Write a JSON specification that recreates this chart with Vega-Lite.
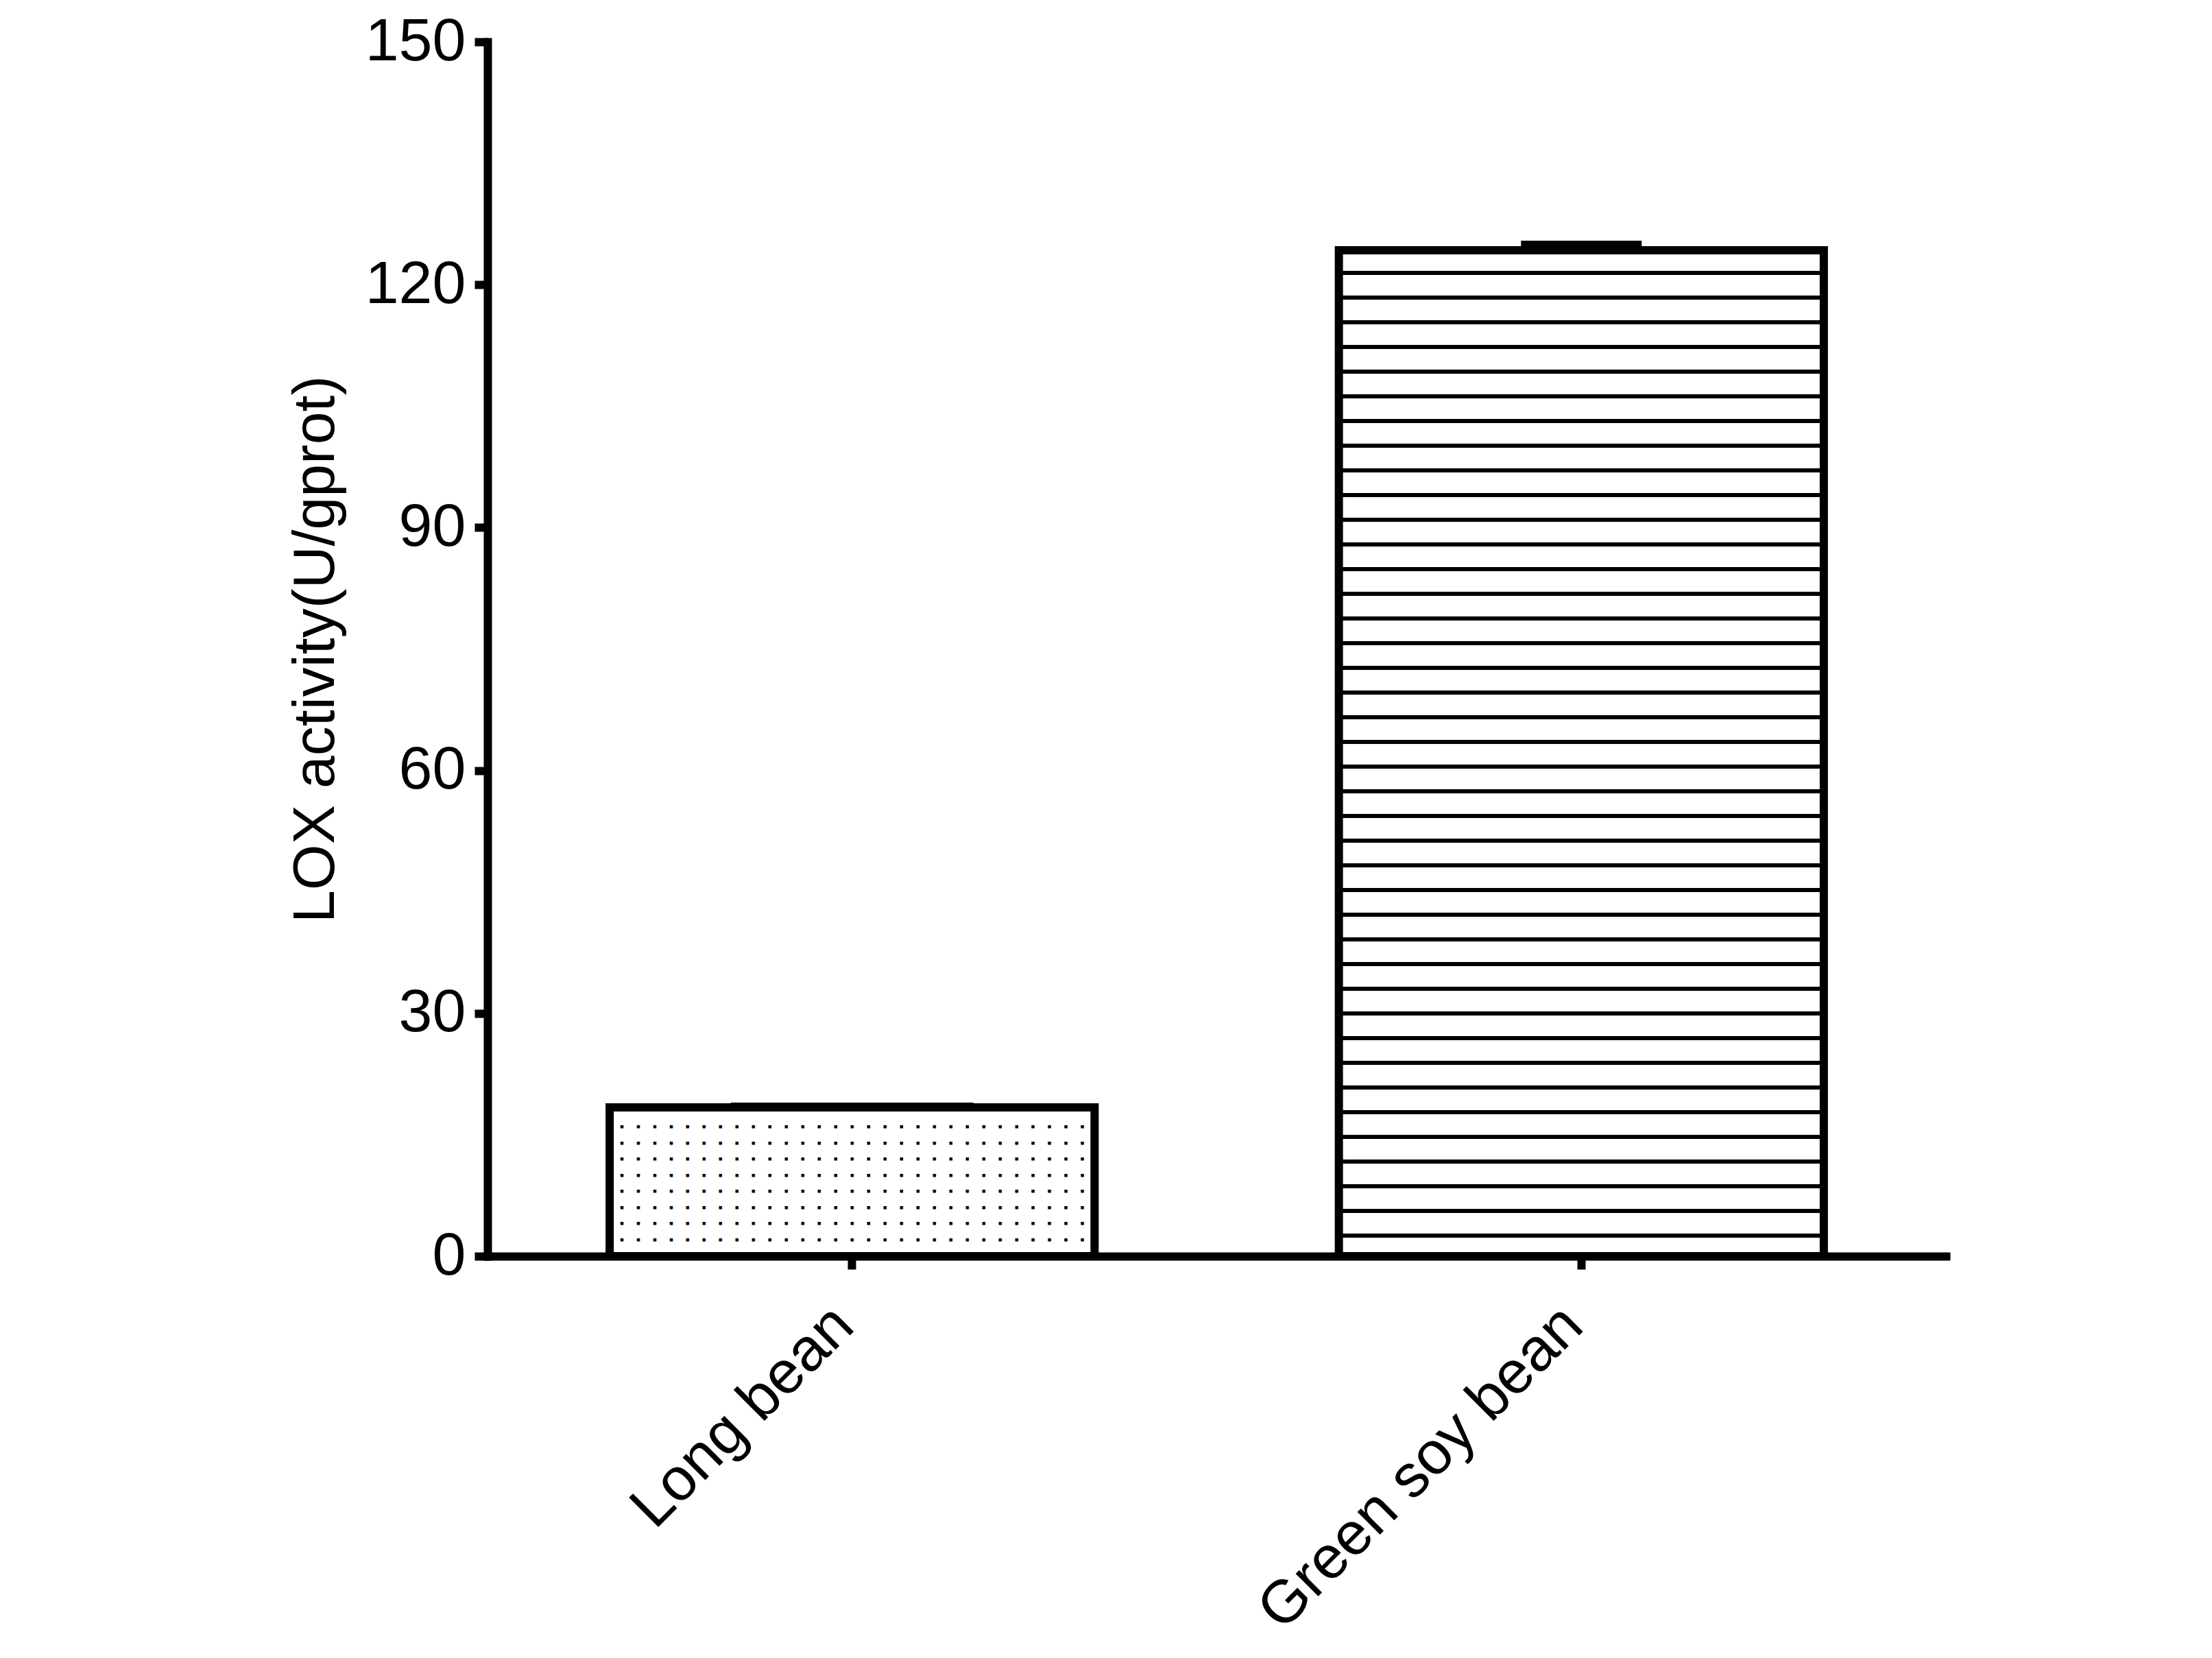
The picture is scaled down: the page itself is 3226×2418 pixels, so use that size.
{
  "$schema": "https://vega.github.io/schema/vega-lite/v6.json",
  "width": 2127,
  "height": 1771,
  "autosize": {"type": "none"},
  "padding": {"left": 711, "top": 61, "right": 388, "bottom": 586},
  "background": "white",
  "config": {
    "view": {"stroke": null},
    "font": "Liberation Sans",
    "axis": {
      "domainColor": "black",
      "domainWidth": 12,
      "domainCap": "square",
      "tickColor": "black",
      "tickWidth": 12,
      "tickSize": 19,
      "labelColor": "black",
      "labelFont": "Liberation Sans",
      "labelFontSize": 88,
      "labelLimit": 0,
      "titleFont": "Liberation Sans",
      "titleColor": "black",
      "titleFontSize": 86,
      "titleFontWeight": "normal",
      "titleLimit": 0,
      "grid": false
    }
  },
  "data": {
    "values": [
      {"bean": "Long bean", "lox": 18.38, "upper": 18.46},
      {"bean": "Green soy bean", "lox": 124.25, "upper": 124.93}
    ]
  },
  "encoding": {
    "x": {
      "field": "bean",
      "type": "nominal",
      "sort": null,
      "scale": {"paddingInner": 0.335, "paddingOuter": 0.1675},
      "axis": {
        "title": null,
        "labelAngle": -45,
        "labelAlign": "right",
        "labelBaseline": "middle",
        "labelPadding": 68,
        "labelOffset": -12,
        "labelLimit": 0,
        "labelOverlap": false
      }
    }
  },
  "layer": [
    {
      "transform": [{"filter": "datum.bean == 'Long bean'"}],
      "mark": {"type": "bar", "fill": "white", "stroke": "black", "strokeWidth": 12, "strokeJoin": "miter"},
      "encoding": {
        "y": {
          "field": "lox",
          "type": "quantitative",
          "scale": {"domain": [0, 150], "nice": false},
          "axis": {
            "title": "LOX activity(U/gprot)",
            "values": [0, 30, 60, 90, 120, 150],
            "labelPadding": 13,
            "titlePadding": 28
          }
        }
      }
    },
    {
      "transform": [{"filter": "datum.bean == 'Long bean'"}],
      "mark": {
        "type": "text",
        "font": "DejaVu Sans Mono",
        "fontSize": 19.93,
        "fontWeight": "bold",
        "align": "center",
        "baseline": "top",
        "dy": 14,
        "lineHeight": 23.57,
        "color": "black",
        "stroke": "black",
        "strokeWidth": 1.2,
        "text": [
          "\u00a0.\u00a0.\u00a0.\u00a0.\u00a0.\u00a0.\u00a0.\u00a0.\u00a0.\u00a0.\u00a0.\u00a0.\u00a0.\u00a0.\u00a0.\u00a0.\u00a0.\u00a0.\u00a0.\u00a0.\u00a0.\u00a0.\u00a0.\u00a0.\u00a0.\u00a0.\u00a0.\u00a0.\u00a0.",
          ".\u00a0.\u00a0.\u00a0.\u00a0.\u00a0.\u00a0.\u00a0.\u00a0.\u00a0.\u00a0.\u00a0.\u00a0.\u00a0.\u00a0.\u00a0.\u00a0.\u00a0.\u00a0.\u00a0.\u00a0.\u00a0.\u00a0.\u00a0.\u00a0.\u00a0.\u00a0.\u00a0.\u00a0.\u00a0",
          "\u00a0.\u00a0.\u00a0.\u00a0.\u00a0.\u00a0.\u00a0.\u00a0.\u00a0.\u00a0.\u00a0.\u00a0.\u00a0.\u00a0.\u00a0.\u00a0.\u00a0.\u00a0.\u00a0.\u00a0.\u00a0.\u00a0.\u00a0.\u00a0.\u00a0.\u00a0.\u00a0.\u00a0.\u00a0.",
          ".\u00a0.\u00a0.\u00a0.\u00a0.\u00a0.\u00a0.\u00a0.\u00a0.\u00a0.\u00a0.\u00a0.\u00a0.\u00a0.\u00a0.\u00a0.\u00a0.\u00a0.\u00a0.\u00a0.\u00a0.\u00a0.\u00a0.\u00a0.\u00a0.\u00a0.\u00a0.\u00a0.\u00a0.\u00a0",
          "\u00a0.\u00a0.\u00a0.\u00a0.\u00a0.\u00a0.\u00a0.\u00a0.\u00a0.\u00a0.\u00a0.\u00a0.\u00a0.\u00a0.\u00a0.\u00a0.\u00a0.\u00a0.\u00a0.\u00a0.\u00a0.\u00a0.\u00a0.\u00a0.\u00a0.\u00a0.\u00a0.\u00a0.\u00a0.",
          ".\u00a0.\u00a0.\u00a0.\u00a0.\u00a0.\u00a0.\u00a0.\u00a0.\u00a0.\u00a0.\u00a0.\u00a0.\u00a0.\u00a0.\u00a0.\u00a0.\u00a0.\u00a0.\u00a0.\u00a0.\u00a0.\u00a0.\u00a0.\u00a0.\u00a0.\u00a0.\u00a0.\u00a0.\u00a0",
          "\u00a0.\u00a0.\u00a0.\u00a0.\u00a0.\u00a0.\u00a0.\u00a0.\u00a0.\u00a0.\u00a0.\u00a0.\u00a0.\u00a0.\u00a0.\u00a0.\u00a0.\u00a0.\u00a0.\u00a0.\u00a0.\u00a0.\u00a0.\u00a0.\u00a0.\u00a0.\u00a0.\u00a0.\u00a0.",
          ".\u00a0.\u00a0.\u00a0.\u00a0.\u00a0.\u00a0.\u00a0.\u00a0.\u00a0.\u00a0.\u00a0.\u00a0.\u00a0.\u00a0.\u00a0.\u00a0.\u00a0.\u00a0.\u00a0.\u00a0.\u00a0.\u00a0.\u00a0.\u00a0.\u00a0.\u00a0.\u00a0.\u00a0.\u00a0"
        ]
      },
      "encoding": {
        "y": {"field": "lox", "type": "quantitative"}
      }
    },
    {
      "transform": [{"filter": "datum.bean == 'Green soy bean'"}],
      "mark": {
        "type": "bar",
        "stroke": "black",
        "strokeWidth": 12,
        "strokeJoin": "miter",
        "fill": {
          "gradient": "linear",
          "x1": 0, "y1": 0, "x2": 0, "y2": 1,
          "stops": [
            {"offset": 0, "color": "white"},
            {"offset": 0.02045, "color": "white"}, {"offset": 0.02045, "color": "black"}, {"offset": 0.02454, "color": "black"}, {"offset": 0.02454, "color": "white"},
            {"offset": 0.04499, "color": "white"}, {"offset": 0.04499, "color": "black"}, {"offset": 0.04908, "color": "black"}, {"offset": 0.04908, "color": "white"},
            {"offset": 0.06953, "color": "white"}, {"offset": 0.06953, "color": "black"}, {"offset": 0.07362, "color": "black"}, {"offset": 0.07362, "color": "white"},
            {"offset": 0.09407, "color": "white"}, {"offset": 0.09407, "color": "black"}, {"offset": 0.09816, "color": "black"}, {"offset": 0.09816, "color": "white"},
            {"offset": 0.11861, "color": "white"}, {"offset": 0.11861, "color": "black"}, {"offset": 0.12270, "color": "black"}, {"offset": 0.12270, "color": "white"},
            {"offset": 0.14315, "color": "white"}, {"offset": 0.14315, "color": "black"}, {"offset": 0.14724, "color": "black"}, {"offset": 0.14724, "color": "white"},
            {"offset": 0.16769, "color": "white"}, {"offset": 0.16769, "color": "black"}, {"offset": 0.17178, "color": "black"}, {"offset": 0.17178, "color": "white"},
            {"offset": 0.19223, "color": "white"}, {"offset": 0.19223, "color": "black"}, {"offset": 0.19632, "color": "black"}, {"offset": 0.19632, "color": "white"},
            {"offset": 0.21677, "color": "white"}, {"offset": 0.21677, "color": "black"}, {"offset": 0.22086, "color": "black"}, {"offset": 0.22086, "color": "white"},
            {"offset": 0.24131, "color": "white"}, {"offset": 0.24131, "color": "black"}, {"offset": 0.24540, "color": "black"}, {"offset": 0.24540, "color": "white"},
            {"offset": 0.26585, "color": "white"}, {"offset": 0.26585, "color": "black"}, {"offset": 0.26994, "color": "black"}, {"offset": 0.26994, "color": "white"},
            {"offset": 0.29039, "color": "white"}, {"offset": 0.29039, "color": "black"}, {"offset": 0.29448, "color": "black"}, {"offset": 0.29448, "color": "white"},
            {"offset": 0.31493, "color": "white"}, {"offset": 0.31493, "color": "black"}, {"offset": 0.31902, "color": "black"}, {"offset": 0.31902, "color": "white"},
            {"offset": 0.33947, "color": "white"}, {"offset": 0.33947, "color": "black"}, {"offset": 0.34356, "color": "black"}, {"offset": 0.34356, "color": "white"},
            {"offset": 0.36401, "color": "white"}, {"offset": 0.36401, "color": "black"}, {"offset": 0.36810, "color": "black"}, {"offset": 0.36810, "color": "white"},
            {"offset": 0.38855, "color": "white"}, {"offset": 0.38855, "color": "black"}, {"offset": 0.39264, "color": "black"}, {"offset": 0.39264, "color": "white"},
            {"offset": 0.41309, "color": "white"}, {"offset": 0.41309, "color": "black"}, {"offset": 0.41718, "color": "black"}, {"offset": 0.41718, "color": "white"},
            {"offset": 0.43763, "color": "white"}, {"offset": 0.43763, "color": "black"}, {"offset": 0.44172, "color": "black"}, {"offset": 0.44172, "color": "white"},
            {"offset": 0.46217, "color": "white"}, {"offset": 0.46217, "color": "black"}, {"offset": 0.46626, "color": "black"}, {"offset": 0.46626, "color": "white"},
            {"offset": 0.48671, "color": "white"}, {"offset": 0.48671, "color": "black"}, {"offset": 0.49080, "color": "black"}, {"offset": 0.49080, "color": "white"},
            {"offset": 0.51125, "color": "white"}, {"offset": 0.51125, "color": "black"}, {"offset": 0.51534, "color": "black"}, {"offset": 0.51534, "color": "white"},
            {"offset": 0.53579, "color": "white"}, {"offset": 0.53579, "color": "black"}, {"offset": 0.53988, "color": "black"}, {"offset": 0.53988, "color": "white"},
            {"offset": 0.56033, "color": "white"}, {"offset": 0.56033, "color": "black"}, {"offset": 0.56442, "color": "black"}, {"offset": 0.56442, "color": "white"},
            {"offset": 0.58487, "color": "white"}, {"offset": 0.58487, "color": "black"}, {"offset": 0.58896, "color": "black"}, {"offset": 0.58896, "color": "white"},
            {"offset": 0.60941, "color": "white"}, {"offset": 0.60941, "color": "black"}, {"offset": 0.61350, "color": "black"}, {"offset": 0.61350, "color": "white"},
            {"offset": 0.63395, "color": "white"}, {"offset": 0.63395, "color": "black"}, {"offset": 0.63804, "color": "black"}, {"offset": 0.63804, "color": "white"},
            {"offset": 0.65849, "color": "white"}, {"offset": 0.65849, "color": "black"}, {"offset": 0.66258, "color": "black"}, {"offset": 0.66258, "color": "white"},
            {"offset": 0.68303, "color": "white"}, {"offset": 0.68303, "color": "black"}, {"offset": 0.68712, "color": "black"}, {"offset": 0.68712, "color": "white"},
            {"offset": 0.70757, "color": "white"}, {"offset": 0.70757, "color": "black"}, {"offset": 0.71166, "color": "black"}, {"offset": 0.71166, "color": "white"},
            {"offset": 0.73211, "color": "white"}, {"offset": 0.73211, "color": "black"}, {"offset": 0.73620, "color": "black"}, {"offset": 0.73620, "color": "white"},
            {"offset": 0.75665, "color": "white"}, {"offset": 0.75665, "color": "black"}, {"offset": 0.76074, "color": "black"}, {"offset": 0.76074, "color": "white"},
            {"offset": 0.78119, "color": "white"}, {"offset": 0.78119, "color": "black"}, {"offset": 0.78528, "color": "black"}, {"offset": 0.78528, "color": "white"},
            {"offset": 0.80573, "color": "white"}, {"offset": 0.80573, "color": "black"}, {"offset": 0.80982, "color": "black"}, {"offset": 0.80982, "color": "white"},
            {"offset": 0.83027, "color": "white"}, {"offset": 0.83027, "color": "black"}, {"offset": 0.83436, "color": "black"}, {"offset": 0.83436, "color": "white"},
            {"offset": 0.85481, "color": "white"}, {"offset": 0.85481, "color": "black"}, {"offset": 0.85890, "color": "black"}, {"offset": 0.85890, "color": "white"},
            {"offset": 0.87935, "color": "white"}, {"offset": 0.87935, "color": "black"}, {"offset": 0.88344, "color": "black"}, {"offset": 0.88344, "color": "white"},
            {"offset": 0.90389, "color": "white"}, {"offset": 0.90389, "color": "black"}, {"offset": 0.90798, "color": "black"}, {"offset": 0.90798, "color": "white"},
            {"offset": 0.92843, "color": "white"}, {"offset": 0.92843, "color": "black"}, {"offset": 0.93252, "color": "black"}, {"offset": 0.93252, "color": "white"},
            {"offset": 0.95297, "color": "white"}, {"offset": 0.95297, "color": "black"}, {"offset": 0.95706, "color": "black"}, {"offset": 0.95706, "color": "white"},
            {"offset": 0.97751, "color": "white"}, {"offset": 0.97751, "color": "black"}, {"offset": 0.98160, "color": "black"}, {"offset": 0.98160, "color": "white"},
            {"offset": 1, "color": "white"}
          ]
        }
      },
      "encoding": {
        "y": {"field": "lox", "type": "quantitative"}
      }
    },
    {
      "transform": [{"filter": "datum.bean == 'Long bean'"}],
      "mark": {"type": "tick", "color": "black", "thickness": 12, "size": 354, "opacity": 1},
      "encoding": {
        "y": {"field": "upper", "type": "quantitative"}
      }
    },
    {
      "transform": [{"filter": "datum.bean == 'Green soy bean'"}],
      "mark": {"type": "tick", "color": "black", "thickness": 12, "size": 176, "opacity": 1},
      "encoding": {
        "y": {"field": "upper", "type": "quantitative"}
      }
    }
  ]
}
